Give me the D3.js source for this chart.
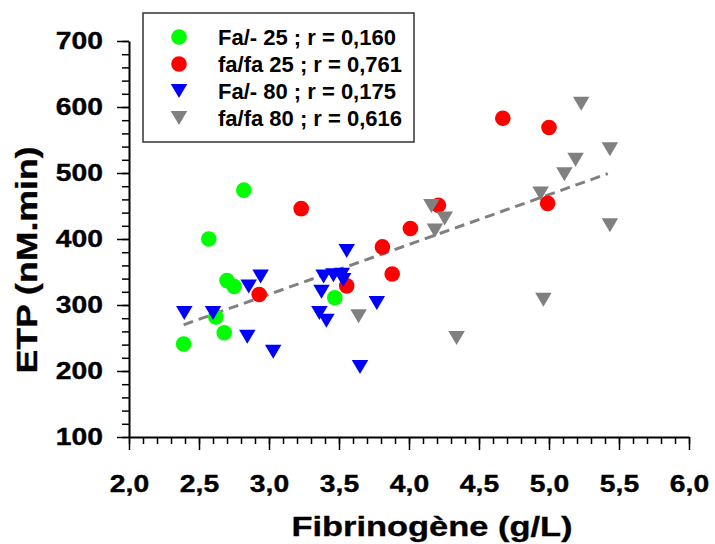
<!DOCTYPE html>
<html>
<head>
<meta charset="utf-8">
<script src="https://cdn.jsdelivr.net/npm/d3@7"></script>
<style>
  body { margin: 0; background: #fff; }
  svg text { font-family: "Liberation Sans", Arial, sans-serif; font-weight: bold; fill: #000; }
  .axislabel { stroke: #000; stroke-width: 0.35px; }
</style>
</head>
<body>
<script>
// series data : [fibrinogene, ETP]
var faMinus25 = [[2.39,241],[2.57,400],[2.62,282],[2.68,258],[2.70,337],[2.75,328],[2.82,474],[3.47,311]];
var fafa25 = [[2.93,316],[3.23,446],[3.555,329],[3.81,388],[3.88,347],[4.01,416],[4.21,451],[4.67,583],[5.00,569],[4.99,454]];
var faMinus80 = [[2.395,288],[2.60,288],[2.845,252],[2.855,328],[2.94,343],[3.03,229],[3.36,288],[3.41,276],[3.375,320],
                 [3.39,343],[3.46,345],[3.52,346],[3.53,338],[3.555,382],[3.65,206],[3.77,303]];
var fafa80 = [[3.64,283],[4.16,450],[4.255,431],[4.185,413],[4.34,250],[4.94,469],[4.96,308],[5.11,498],[5.19,520],[5.23,605],[5.435,536],[5.435,421]];

var trendX = [2.39, 5.42];
var trendY = [270, 499];

var legendLabels = ["Fa/- 25 ; r = 0,160", "fa/fa 25 ; r = 0,761", "Fa/- 80 ; r = 0,175", "fa/fa 80 ; r = 0,616"];
var xTicks = [2, 2.5, 3, 3.5, 4, 4.5, 5, 5.5, 6];
var yTicks = [100, 200, 300, 400, 500, 600, 700];

var series = [
  {data: faMinus25, color: "#00ff00", shape: "circle"},
  {data: fafa25, color: "#ff0000", shape: "circle"},
  {data: faMinus80, color: "#0000ff", shape: "tri"},
  {data: fafa80, color: "#808080", shape: "tri"}
];

var width = 715, height = 544;
var stretch = 1.23;

var svg = d3.select("body").append("svg")
    .attr("width", width)
    .attr("height", height);

var x = d3.scaleLinear().domain([2, 6]).range([129, 689]);
var y = d3.scaleLinear().domain([100, 700]).range([437, 41]);

var comma = function(d) { return d3.format(".1f")(d).replace(".", ","); };

// minor ticks
svg.append("g")
    .attr("transform", "translate(0,437)")
    .call(d3.axisBottom(x).tickValues(d3.range(20, 61).map(function(d) { return d / 10; })).tickSize(7).tickSizeOuter(0).tickFormat(""))
    .call(function(g) { g.select(".domain").remove(); g.selectAll("line").attr("stroke-width", 1.5); });

svg.append("g")
    .attr("transform", "translate(129,0)")
    .call(d3.axisLeft(y).tickValues(d3.range(100, 701, 20)).tickSize(7).tickSizeOuter(0).tickFormat(""))
    .call(function(g) { g.select(".domain").remove(); g.selectAll("line").attr("stroke-width", 1.5); });

// major ticks + labels
var xAxis = svg.append("g")
    .attr("transform", "translate(0,437)")
    .call(d3.axisBottom(x).tickValues(xTicks).tickSize(13).tickSizeOuter(0).tickFormat(comma));
xAxis.select(".domain").attr("stroke-width", 2);
xAxis.selectAll("line").attr("stroke-width", 1.5);
xAxis.selectAll("text")
    .attr("class", "axislabel")
    .attr("y", 0).attr("dy", null)
    .attr("transform", "translate(0,55) scale(" + stretch + ",1)")
    .style("font-size", "23px");

var yAxis = svg.append("g")
    .attr("transform", "translate(129,0)")
    .call(d3.axisLeft(y).tickValues(yTicks).tickSize(12).tickSizeOuter(0));
yAxis.select(".domain").attr("stroke-width", 2);
yAxis.selectAll("line").attr("stroke-width", 1.5);
yAxis.selectAll("text")
    .attr("class", "axislabel")
    .attr("x", 0)
    .attr("transform", "translate(-26,0) scale(" + stretch + ",1)")
    .style("font-size", "23px");

// axis titles
svg.append("text")
    .attr("class", "axislabel")
    .attr("transform", "translate(432,536) scale(" + stretch + ",1)")
    .attr("text-anchor", "middle")
    .style("font-size", "28px")
    .text("Fibrinogène (g/L)");

svg.append("text")
    .attr("class", "axislabel")
    .attr("transform", "translate(37,260) rotate(-90) scale(" + stretch + ",1)")
    .attr("text-anchor", "middle")
    .style("font-size", "29px")
    .text("ETP (nM.min)");

// regression line
svg.append("line")
    .attr("x1", x(trendX[0])).attr("y1", y(trendY[0]))
    .attr("x2", x(trendX[1])).attr("y2", y(trendY[1]))
    .attr("stroke", "#808080")
    .attr("stroke-width", 3)
    .attr("stroke-dasharray", "10,6");

function triPath(w, h) {
  return "M" + (-w / 2) + "," + (-h / 2) + "L" + (w / 2) + "," + (-h / 2) + "L0," + (h / 2) + "Z";
}

function drawMarker(sel, s) {
  if (s.shape == "circle") {
    sel.append("circle").attr("r", 7.8).attr("fill", s.color);
  } else {
    sel.append("path").attr("d", triPath(16.5, 14)).attr("fill", s.color);
  }
}

// points
series.forEach(function(s) {
  svg.append("g").selectAll("g")
    .data(s.data)
    .enter()
    .append("g")
    .attr("transform", function(d) { return "translate(" + x(d[0]) + "," + y(d[1]) + ")"; })
    .each(function() { drawMarker(d3.select(this), s); });
});

//Legend
var legend = svg.append("g");
legend.append("rect")
    .attr("x", 143).attr("y", 13)
    .attr("width", 271).attr("height", 129)
    .attr("fill", "#fff")
    .attr("stroke", "#333")
    .attr("stroke-width", 1.5);

series.forEach(function(s, i) {
  var row = legend.append("g").attr("transform", "translate(179," + (37 + i * 27) + ")");
  drawMarker(row, s);
  row.append("text")
      .attr("x", 39)
      .attr("y", 8)
      .style("font-size", "22px")
      .text(legendLabels[i]);
});
</script>
</body>
</html>
